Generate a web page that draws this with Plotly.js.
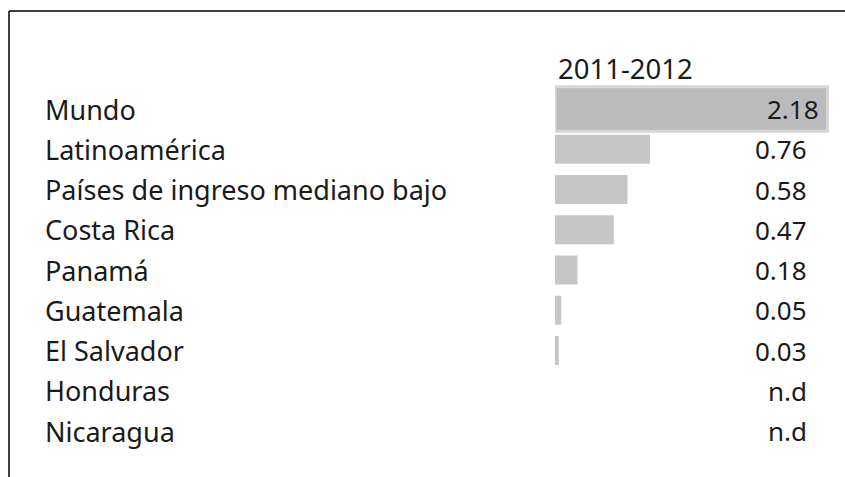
<!DOCTYPE html>
<html>
<head>
<meta charset="utf-8">
<script src="https://cdn.plot.ly/plotly-3.0.1.min.js"></script>
<style>html,body{margin:0;padding:0;background:#fff;} #chart{width:845px;height:477px;}</style>
</head>
<body>
<div id="chart"></div>
<script>
const categories = ["Mundo","Latinoamérica","Países de ingreso mediano bajo","Costa Rica","Panamá","Guatemala","El Salvador","Honduras","Nicaragua"];
const values = [2.18, 0.76, 0.58, 0.47, 0.18, 0.05, 0.03, null, null];
const valueLabels = ["2.18","0.76","0.58","0.47","0.18","0.05","0.03","n.d","n.d"];
const columnHeader = "2011-2012";

const W = 845, H = 477;
const FONT = "Noto Sans, Open Sans, sans-serif";
const TXT = "#1a1a1a";

const idx = categories.map((_, i) => i);

const barColors = values.map((v, i) => i === 0 ? "#bbbbbb" : "#c6c6c6");
const barWidths = values.map((v, i) => i === 0 ? 1.1 : 0.72);
const lineColors = values.map((v, i) => i === 0 ? "#d6d6d6" : "rgba(0,0,0,0)");
const lineWidths = values.map((v, i) => i === 0 ? 3 : 0);

const trace = {
  type: "bar",
  orientation: "h",
  y: idx,
  x: values,
  width: barWidths,
  marker: { color: barColors, line: { color: lineColors, width: lineWidths } },
  hoverinfo: "skip"
};

const annotations = [];
categories.forEach((c, i) => {
  annotations.push({
    xref: "paper", yref: "y", x: 43 / W, y: i, xanchor: "left", yanchor: "middle",
    text: c, showarrow: false, font: { family: FONT, size: 27, color: TXT }
  });
  annotations.push({
    xref: "paper", yref: "y", x: (i === 0 ? 821 : 809) / W, y: i, xanchor: "right", yanchor: "middle",
    text: valueLabels[i], showarrow: false, font: { family: FONT, size: 26, color: TXT }
  });
});
annotations.push({
  xref: "paper", yref: "y", x: 556 / W, y: -1, xanchor: "left", yanchor: "middle",
  text: columnHeader, showarrow: false, font: { family: FONT, size: 27.5, color: TXT }
});

const layout = {
  width: W, height: H,
  margin: { l: 0, r: 0, t: 0, b: 0, pad: 0 },
  paper_bgcolor: "#ffffff", plot_bgcolor: "rgba(0,0,0,0)",
  showlegend: false,
  xaxis: { domain: [555 / W, 1], range: [0, 290 / 125], visible: false, fixedrange: true },
  yaxis: { range: [(H - 109) / 40.25, -109 / 40.25], visible: false, fixedrange: true },
  annotations: annotations,
  shapes: [
    { type: "line", xref: "paper", yref: "paper", x0: 9 / W, x1: 1, y0: 1 - 11 / H, y1: 1 - 11 / H, line: { color: "#000", width: 1.5 } },
    { type: "line", xref: "paper", yref: "paper", x0: 9 / W, x1: 9 / W, y0: 1 - 11 / H, y1: 0, line: { color: "#000", width: 1.5 } }
  ]
};

Plotly.newPlot("chart", [trace], layout, { displayModeBar: false, staticPlot: true });
</script>
</body>
</html>
